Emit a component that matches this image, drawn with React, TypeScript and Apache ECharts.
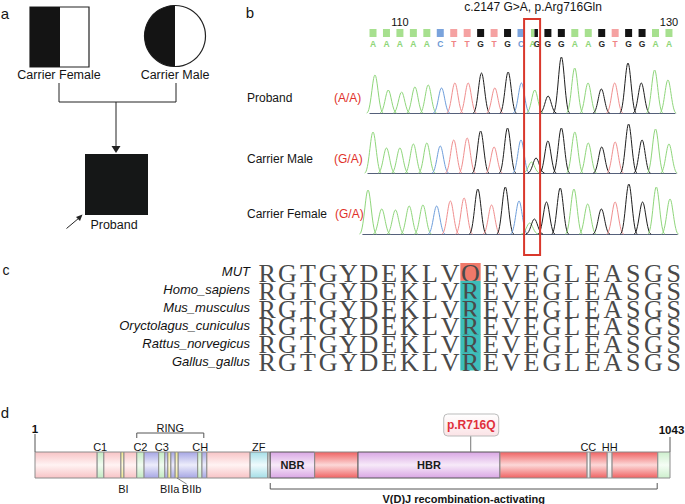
import React, { useEffect, useRef } from "react";
import * as echarts from "echarts";

const SANS = "'Liberation Sans', Arial, Helvetica, sans-serif";
const SERIF = "'Liberation Serif', 'Times New Roman', serif";

// ---------- Panel b: Sanger chromatogram ----------
const seqPositions = [108, 109, 110, 111, 112, 113, 114, 115, 116, 117, 118, 119, 120, 121, 122, 123, 124, 125, 126, 127, 128, 129, 130];
const seqBases = ["A", "A", "A", "A", "A", "C", "T", "T", "G", "T", "G", "C", "A", "G", "G", "A", "A", "G", "T", "G", "G", "A", "A"];
const seqTickPositions = [110, 130];
const seqTickLabels = ["110", "130"];
const mutationPosition = 120;
const mutationBoxRange = [119.23, 120.42];
const probandPeaks = [38, 23, 21, 26, 28, 25, 30, 30, 40, 25, 41, 30, 23, 17, 56, 45, 30, 24, 30, 50, 30, 43, 33];
const maleMainPeaks = [41, 25, 25, 29, 30, 27, 33, 35, 42, 26, 45, 33, 11, 32, 45, 41, 30, 26, 31, 49, 33, 44, 29];
const femaleMainPeaks = [44, 25, 24, 28, 29, 28, 33, 36, 45, 29, 47, 33, 11, 32, 46, 45, 30, 25, 32, 50, 32, 47, 35];
const maleSecondPeak = 15; // G allele at the mutation site
const femaleSecondPeak = 15;
const traceRows = ["Proband", "Carrier Male", "Carrier Female"];
const traceGenotypes = ["(A/A)", "(G/A)", "(G/A)"];

// ---------- Panel c: alignment ----------
const species = ["MUT", "Homo_sapiens", "Mus_musculus", "Oryctolagus_cuniculus", "Rattus_norvegicus", "Gallus_gallus"];
const alignment = [
  "RGTGYDEKLVQEVEGLEASGS",
  "RGTGYDEKLVREVEGLEASGS",
  "RGTGYDEKLVREVEGLEASGS",
  "RGTGYDEKLVREVEGLEASGS",
  "RGTGYDEKLVREVEGLEASGS",
  "RGTGYDEKLVREVEGLEASGS",
];
const highlightColumn = 10;

// ---------- Panel d: RAG1 domains ----------
const proteinLength = 1043;
const domainStart = [1, 103, 114, 142, 147, 168, 180, 204, 214, 219, 224, 231, 236, 268, 275, 283, 354, 383, 387, 460, 531, 764, 907, 912, 940, 948, 1023];
const domainEnd = [103, 114, 142, 147, 168, 180, 204, 214, 219, 224, 231, 236, 268, 275, 283, 354, 383, 387, 460, 531, 764, 907, 912, 940, 948, 1023, 1043];
const domainKind = ["pink", "green", "pink", "yellow", "pink", "green", "blue", "green", "blue", "yellow", "blue", "yellow", "blue", "green", "blue", "pink", "cyan", "grey", "purple", "red", "purple", "red", "white", "red", "white", "red", "lightgreen"];
const domainName = ["", "", "", "", "", "", "", "", "", "", "", "", "", "", "", "", "", "", "NBR", "", "HBR", "", "", "", "", "", ""];
const topLabels = ["C1", "C2", "C3", "CH", "ZF", "CC", "HH"];
const topLabelRes = [108, 174, 209, 272, 368, 909, 944];
const bottomLabels = ["BI", "BIIa", "BIIb"];
const bottomLabelRes = [146, 222, 258];
const bottomLeaderFrom = [0, 0, 234];
const bracketStart = [168, 387];
const bracketEnd = [278, 1022];
const bracketLabel = ["RING", "V(D)J recombination-activating"];
const bracketSide = ["top", "bottom"];
const proteinEnds = [1, 1043];
const mutationResidue = 716;
const mutationLabel = "p.R716Q";

const BASE_CODE: Record<string, number> = { A: 0, C: 1, T: 2, G: 3 };
const TRACE_COLORS = ["#8fd67b", "#6e9edb", "#f08e8e", "#1e1e1e"];
const SQUARE_COLORS = ["#a7e08f", "#7aa3dc", "#f5a2a2", "#141414"];
const LETTER_COLORS = ["#8ed678", "#6b98d4", "#ef8585", "#2a2a2a"];
const RED = "#d9382c";

const GRADS: Record<string, string[]> = {
  pink: ["#f7c3c5", "#fff3f3", "#f7c3c5"],
  red: ["#ef6262", "#fcd8d8", "#ef6262"],
  purple: ["#d9a6e4", "#f7eaf9", "#d9a6e4"],
  blue: ["#a6a6e4", "#ededfb", "#a6a6e4"],
  green: ["#c2eac2", "#f2fcf2", "#c2eac2"],
  lightgreen: ["#cdefcd", "#f5fdf5", "#cdefcd"],
  cyan: ["#a5dee7", "#effbfd", "#a5dee7"],
  yellow: ["#f0e78a", "#fffbe0", "#f0e78a"],
  white: ["#e2e2e2", "#ffffff", "#e2e2e2"],
  grey: ["#bdbdbd", "#ececec", "#bdbdbd"],
};

function buildTrace(heights: number[], second?: number) {
  const data: number[][] = seqPositions.map((p, i) => [p, heights[i], BASE_CODE[seqBases[i]]]);
  if (second !== undefined) {
    const idx = seqPositions.indexOf(mutationPosition);
    data[idx] = [mutationPosition - 0.22, heights[idx], BASE_CODE.A];
    data.push([mutationPosition + 0.12, second, BASE_CODE.G]);
  }
  return data;
}

const PEAK_HALF = 0.62;
function renderPeak(_params: any, api: any) {
  const x = api.value(0);
  const h = api.value(1);
  const code = api.value(2);
  const L = api.coord([x - PEAK_HALF, 0]);
  const T = api.coord([x, h]);
  const R = api.coord([x + PEAK_HALF, 0]);
  const color = TRACE_COLORS[code];
  const dl = T[0] - L[0];
  const dr = R[0] - T[0];
  const st = { stroke: color, lineWidth: 1, fill: null };
  return {
    type: "group",
    children: [
      { type: "bezierCurve", shape: { x1: L[0], y1: L[1], cpx1: L[0] + dl * 0.5, cpy1: L[1], cpx2: T[0] - dl * 0.3, cpy2: T[1], x2: T[0], y2: T[1] }, style: st },
      { type: "bezierCurve", shape: { x1: T[0], y1: T[1], cpx1: T[0] + dr * 0.3, cpy1: T[1], cpx2: R[0] - dr * 0.5, cpy2: R[1], x2: R[0], y2: R[1] }, style: st },
    ],
  };
}

function txt(text: string, x: number, y: number, o: any = {}) {
  return {
    type: "text",
    x,
    y,
    silent: true,
    style: {
      text,
      fill: o.fill || "#151515",
      fontSize: o.size || 12,
      fontFamily: o.family || SANS,
      fontWeight: o.weight || "normal",
      fontStyle: o.style || "normal",
      align: o.align || "center",
      verticalAlign: o.va || "middle",
    },
  };
}

export default function App() {
  const ref = useRef<HTMLDivElement>(null);
  useEffect(() => {
    document.body.style.margin = "0";
    if (!ref.current) return;
    const chart = echarts.init(ref.current, null, { renderer: "svg" });

    const xMin = 107.62;
    const xMax = 130.53;
    const traceX = (gi: number, showLine: boolean) => ({
      type: "value",
      gridIndex: gi,
      min: xMin,
      max: xMax,
      show: true,
      axisLine: { show: showLine, onZero: false, lineStyle: { color: "#55607a", width: 1 } },
      axisTick: { show: false },
      axisLabel: { show: false },
      splitLine: { show: false },
    });
    const hiddenY = (gi: number, min: number, max: number) => ({ type: "value", gridIndex: gi, min, max, show: false });

    const option: any = {
      animation: false,
      grid: [
        { left: 367.9, top: 22, width: 308.2, height: 22 },
        { left: 369.9, top: 53, width: 305.1, height: 60 },
        { left: 367.9, top: 113, width: 308.2, height: 60 },
        { left: 362.8, top: 174, width: 314.5, height: 60 },
        { left: 257, top: 263, width: 427, height: 107 },
        { left: 35, top: 452, width: 635, height: 26 },
      ],
      xAxis: [
        traceX(0, false),
        traceX(1, true),
        traceX(2, true),
        traceX(3, true),
        { type: "category", gridIndex: 4, data: alignment[0].split(""), show: false },
        { type: "value", gridIndex: 5, min: 1, max: proteinLength, show: false },
      ],
      yAxis: [
        hiddenY(0, 0, 2),
        hiddenY(1, 0, 60),
        hiddenY(2, 0, 60),
        hiddenY(3, 0, 60),
        {
          type: "category",
          gridIndex: 4,
          inverse: true,
          data: species,
          axisLine: { show: false },
          axisTick: { show: false },
          splitLine: { show: false },
          axisLabel: { fontStyle: "italic", fontSize: 13, color: "#111", fontFamily: SANS, margin: 7 },
        },
        hiddenY(5, 0, 1),
      ],
      series: [
        // header squares + letters
        {
          type: "custom",
          xAxisIndex: 0,
          yAxisIndex: 0,
          silent: true,
          clip: false,
          data: seqPositions.map((p) => [p, 1]),
          renderItem: (params: any, api: any) => {
            const i = params.dataIndex;
            const p = api.value(0);
            const sq = api.coord([p, 1]);
            const lt = api.coord([p, 0]);
            const code = BASE_CODE[seqBases[i]];
            const sw = 7, sh = 8;
            const ch: any[] = [];
            const letter = (t: string, x: number, c: number) => ({
              type: "text", x, y: lt[1],
              style: { text: t, fill: LETTER_COLORS[c], fontSize: 8.5, fontFamily: SANS, fontWeight: "bold", align: "center", verticalAlign: "middle" },
            });
            if (p === mutationPosition) {
              ch.push({ type: "rect", shape: { x: sq[0] - sw / 2, y: sq[1] - sh / 2, width: sw / 2, height: sh }, style: { fill: SQUARE_COLORS[0] } });
              ch.push({ type: "rect", shape: { x: sq[0], y: sq[1] - sh / 2, width: sw / 2, height: sh }, style: { fill: SQUARE_COLORS[3] } });
              ch.push(letter("A", lt[0] - 2, 0));
              ch.push(letter("G", lt[0] + 2.5, 3));
            } else {
              ch.push({ type: "rect", shape: { x: sq[0] - sw / 2, y: sq[1] - sh / 2, width: sw, height: sh }, style: { fill: SQUARE_COLORS[code] } });
              ch.push(letter(seqBases[i], lt[0], code));
            }
            return { type: "group", children: ch };
          },
        },
        // position numbers
        {
          type: "custom",
          xAxisIndex: 0,
          yAxisIndex: 0,
          silent: true,
          clip: false,
          data: seqTickPositions.map((p) => [p, 2]),
          renderItem: (params: any, api: any) => {
            const c = api.coord([api.value(0), 2]);
            return { type: "text", x: c[0], y: c[1], style: { text: seqTickLabels[params.dataIndex], fill: "#111", fontSize: 11, fontFamily: SANS, align: "center", verticalAlign: "middle" } };
          },
        },
        // traces
        { type: "custom", xAxisIndex: 1, yAxisIndex: 1, silent: true, clip: false, data: buildTrace(probandPeaks), renderItem: renderPeak },
        { type: "custom", xAxisIndex: 2, yAxisIndex: 2, silent: true, clip: false, data: buildTrace(maleMainPeaks, maleSecondPeak), renderItem: renderPeak },
        { type: "custom", xAxisIndex: 3, yAxisIndex: 3, silent: true, clip: false, data: buildTrace(femaleMainPeaks, femaleSecondPeak), renderItem: renderPeak },
        // red box around mutation
        {
          type: "custom",
          xAxisIndex: 0,
          yAxisIndex: 0,
          silent: true,
          clip: false,
          z: 10,
          data: [mutationBoxRange],
          renderItem: (_p: any, api: any) => {
            const a = api.coord([api.value(0), 0]);
            const b = api.coord([api.value(1), 0]);
            return { type: "rect", shape: { x: a[0], y: 19, width: b[0] - a[0], height: 236 }, style: { fill: null, stroke: RED, lineWidth: 2 } };
          },
        },
        // alignment
        {
          type: "custom",
          xAxisIndex: 4,
          yAxisIndex: 4,
          silent: true,
          clip: false,
          data: alignment.flatMap((row, r) => row.split("").map((_, c) => [c, r])),
          renderItem: (_p: any, api: any) => {
            const c = api.value(0);
            const r = api.value(1);
            const pt = api.coord([c, r]);
            const sz = api.size([1, 1]);
            const ch: any[] = [];
            if (c === highlightColumn) {
              ch.push({ type: "rect", shape: { x: pt[0] - sz[0] / 2, y: pt[1] - sz[1] / 2, width: sz[0], height: sz[1] + (r === 0 ? 0 : 0.5) }, style: { fill: r === 0 ? "#f0796a" : "#3dbdb9" } });
            }
            ch.push({
              type: "text", x: pt[0], y: pt[1] + 1.5,
              style: { text: alignment[r][c], fill: "#4a4a4a", fontSize: 26, fontFamily: SERIF, align: "center", verticalAlign: "middle" },
            });
            return { type: "group", children: ch };
          },
        },
        // domains
        {
          type: "custom",
          xAxisIndex: 5,
          yAxisIndex: 5,
          silent: true,
          clip: false,
          data: domainStart.map((s, i) => [s, domainEnd[i]]),
          renderItem: (params: any, api: any) => {
            const i = params.dataIndex;
            const a = api.coord([api.value(0), 1]);
            const b = api.coord([api.value(1), 0]);
            const g = GRADS[domainKind[i]];
            const dark = domainName[i] !== "";
            const ch: any[] = [
              {
                type: "rect",
                shape: { x: a[0], y: a[1], width: b[0] - a[0], height: b[1] - a[1] },
                style: {
                  fill: new echarts.graphic.LinearGradient(0, 0, 0, 1, [
                    { offset: 0, color: g[0] },
                    { offset: 0.5, color: g[1] },
                    { offset: 1, color: g[2] },
                  ]),
                  stroke: dark ? "#555" : "#8c8c8c",
                  lineWidth: 1,
                },
              },
            ];
            if (dark) {
              ch.push({ type: "text", x: (a[0] + b[0]) / 2, y: (a[1] + b[1]) / 2, style: { text: domainName[i], fill: "#1a1a1a", fontSize: 11, fontWeight: "bold", fontFamily: SANS, align: "center", verticalAlign: "middle" } });
            }
            return { type: "group", children: ch };
          },
        },
        // domain labels above
        {
          type: "custom",
          xAxisIndex: 5,
          yAxisIndex: 5,
          silent: true,
          clip: false,
          data: topLabelRes.map((r) => [r, 1]),
          renderItem: (params: any, api: any) => {
            const c = api.coord([api.value(0), 1]);
            return { type: "text", x: c[0], y: c[1] - 5.5, style: { text: topLabels[params.dataIndex], fill: "#151515", fontSize: 11, fontFamily: SANS, align: "center", verticalAlign: "middle" } };
          },
        },
        // domain labels below
        {
          type: "custom",
          xAxisIndex: 5,
          yAxisIndex: 5,
          silent: true,
          clip: false,
          data: bottomLabelRes.map((r) => [r, 0]),
          renderItem: (params: any, api: any) => {
            const i = params.dataIndex;
            const c = api.coord([api.value(0), 0]);
            const ch: any[] = [
              { type: "text", x: c[0], y: c[1] + 11, style: { text: bottomLabels[i], fill: "#151515", fontSize: 11, fontFamily: SANS, align: "center", verticalAlign: "middle" } },
            ];
            if (bottomLeaderFrom[i]) {
              const f = api.coord([bottomLeaderFrom[i], 0]);
              ch.push({ type: "line", shape: { x1: f[0], y1: f[1], x2: c[0] - 5, y2: f[1] + 6 }, style: { stroke: "#666", lineWidth: 0.8 } });
            }
            return { type: "group", children: ch };
          },
        },
        // brackets
        {
          type: "custom",
          xAxisIndex: 5,
          yAxisIndex: 5,
          silent: true,
          clip: false,
          data: bracketStart.map((s, i) => [s, bracketEnd[i]]),
          renderItem: (params: any, api: any) => {
            const i = params.dataIndex;
            const top = bracketSide[i] === "top";
            const a = api.coord([api.value(0), top ? 1 : 0]);
            const b = api.coord([api.value(1), top ? 1 : 0]);
            const ly = top ? a[1] - 19 : a[1] + 11;
            const ty = top ? a[1] - 14 : a[1] + 5;
            const st = { stroke: "#555", lineWidth: 1, fill: null };
            return {
              type: "group",
              children: [
                { type: "polyline", shape: { points: [[a[0], ty], [a[0], ly], [b[0], ly], [b[0], ty]] }, style: st },
                {
                  type: "text", x: (a[0] + b[0]) / 2, y: top ? ly - 5 : ly + 9.5,
                  style: { text: bracketLabel[i], fill: "#151515", fontSize: 11, fontWeight: top ? "normal" : "bold", fontFamily: SANS, align: "center", verticalAlign: "middle" },
                },
              ],
            };
          },
        },
        // protein ends
        {
          type: "custom",
          xAxisIndex: 5,
          yAxisIndex: 5,
          silent: true,
          clip: false,
          data: proteinEnds.map((r) => [r, 1]),
          renderItem: (params: any, api: any) => {
            const i = params.dataIndex;
            const c = api.coord([api.value(0), 1]);
            return {
              type: "group",
              children: [
                { type: "line", shape: { x1: c[0], y1: c[1] - (i === 0 ? 18 : 15), x2: c[0], y2: c[1] }, style: { stroke: "#555", lineWidth: 1 } },
                { type: "text", x: c[0] + (i === 0 ? 0 : 1.5), y: c[1] - (i === 0 ? 23.5 : 22), style: { text: String(proteinEnds[i]), fill: "#111", fontSize: 11.5, fontWeight: "bold", fontFamily: SANS, align: "center", verticalAlign: "middle" } },
              ],
            };
          },
        },
        // mutation callout
        {
          type: "custom",
          xAxisIndex: 5,
          yAxisIndex: 5,
          silent: true,
          clip: false,
          z: 5,
          data: [[mutationResidue, 1]],
          renderItem: (_p: any, api: any) => {
            const c = api.coord([api.value(0), 1]);
            return {
              type: "group",
              children: [
                { type: "line", shape: { x1: c[0], y1: c[1] - 16, x2: c[0], y2: c[1] }, style: { stroke: "#777", lineWidth: 1 } },
                {
                  type: "rect",
                  shape: { x: c[0] - 27, y: c[1] - 38, width: 55, height: 22, r: 4 },
                  style: {
                    fill: new echarts.graphic.LinearGradient(0, 0, 0, 1, [
                      { offset: 0, color: "#ffffff" },
                      { offset: 1, color: "#fbe3e6" },
                    ]),
                    stroke: "#bbbbbb",
                    lineWidth: 1,
                  },
                },
                { type: "text", x: c[0] + 0.5, y: c[1] - 27, style: { text: mutationLabel, fill: "#e0303c", fontSize: 12, fontWeight: "bold", fontFamily: SANS, align: "center", verticalAlign: "middle" } },
              ],
            };
          },
        },
      ],
      graphic: [
        // panel letters
        txt("a", 5, 13, { size: 15 }),
        txt("b", 250, 12, { size: 15 }),
        txt("c", 6, 270, { size: 14 }),
        txt("d", 5, 412, { size: 15 }),
        // pedigree
        { type: "rect", shape: { x: 30, y: 7, width: 59, height: 60 }, style: { fill: "#fff", stroke: "#222", lineWidth: 1.2 } },
        { type: "rect", shape: { x: 30, y: 7, width: 30, height: 60 }, style: { fill: "#141414" } },
        { type: "circle", shape: { cx: 175, cy: 36, r: 30.5 }, style: { fill: "#fff", stroke: "#222", lineWidth: 1.2 } },
        { type: "sector", shape: { cx: 175, cy: 36, r: 30.5, r0: 0, startAngle: Math.PI / 2, endAngle: (3 * Math.PI) / 2, clockwise: true }, style: { fill: "#141414" } },
        txt("Carrier Female", 59, 75, { size: 12.5 }),
        txt("Carrier Male", 175, 75, { size: 12.5 }),
        { type: "polyline", shape: { points: [[59, 83], [59, 102], [176, 102], [176, 83]] }, style: { stroke: "#222", lineWidth: 1, fill: null } },
        { type: "line", shape: { x1: 116, y1: 102, x2: 116, y2: 147 }, style: { stroke: "#222", lineWidth: 1 } },
        { type: "polygon", shape: { points: [[111.5, 146], [120.5, 146], [116, 153]] }, style: { fill: "#222" } },
        { type: "rect", shape: { x: 85, y: 154, width: 63, height: 61 }, style: { fill: "#151717" } },
        txt("Proband", 114, 225, { size: 12.5 }),
        { type: "line", shape: { x1: 66.5, y1: 228.5, x2: 79, y2: 218 }, style: { stroke: "#222", lineWidth: 1 } },
        { type: "polygon", shape: { points: [[82.5, 214.5], [76, 217], [80, 221]] }, style: { fill: "#222" } },
        // panel b labels
        txt("c.2147 G>A, p.Arg716Gln", 533, 7, { size: 12 }),
        txt(traceRows[0], 247, 98, { size: 12, align: "left" }),
        txt(traceGenotypes[0], 334, 98, { size: 12, align: "left", fill: "#e0302a" }),
        txt(traceRows[1], 247, 159, { size: 12, align: "left" }),
        txt(traceGenotypes[1], 334, 159, { size: 12, align: "left", fill: "#e0302a" }),
        txt(traceRows[2], 247, 214, { size: 12, align: "left" }),
        txt(traceGenotypes[2], 335, 214, { size: 12, align: "left", fill: "#e0302a" }),
      ],
    };
    chart.setOption(option);
    return () => chart.dispose();
  }, []);
  return <div ref={ref} style={{ width: 685, height: 504 }} />;
}
